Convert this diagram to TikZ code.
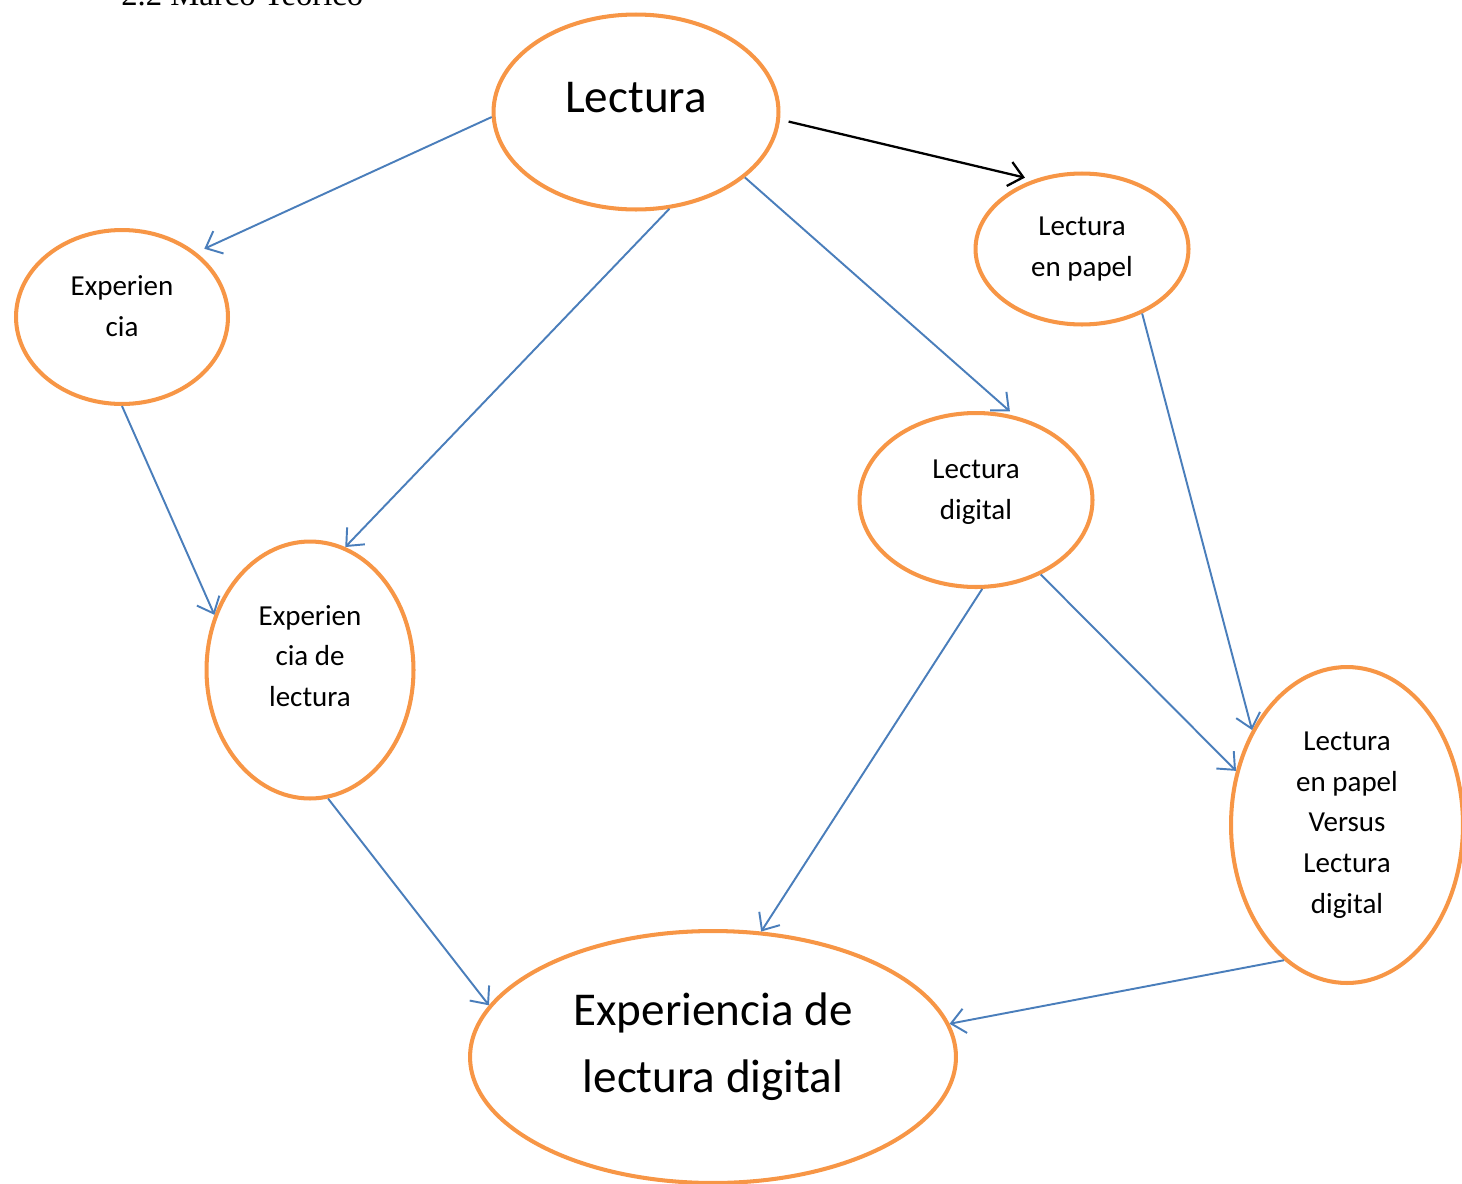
\documentclass[tikz,border=0pt]{standalone}
\usepackage{fontspec}
\setmainfont{Carlito}
\newfontfamily\titlefont{Liberation Serif}
\usetikzlibrary{shapes.geometric,arrows.meta}
\definecolor{bubbleorange}{HTML}{F79646}
\definecolor{linkblue}{HTML}{4A7EBB}
\tikzset{
  bubble/.style={ellipse, draw=bubbleorange, line width=2.3pt, inner sep=0pt, align=center},
  small/.style={font=\fontsize{16.5}{23.2}\selectfont},
  big/.style={font=\fontsize{26.8}{38}\selectfont},
  link/.style={draw=linkblue, line width=1.1pt, -{Straight Barb[length=8pt,width=14pt]}},
  blacklink/.style={draw=black, line width=1.3pt, -{Straight Barb[length=8pt,width=14pt]}}
}
\begin{document}
\begin{tikzpicture}[x=0.02cm, y=-0.02cm]
  \useasboundingbox (0,0) rectangle (1462,1183);
  \node[anchor=base west, inner sep=0pt, font=\titlefont\fontsize{18.6}{22}\selectfont] (titulo) at (121,6) {2.2 Marco Teórico};

  \node[bubble, big, minimum width=5.7cm, minimum height=3.9cm, text depth=0.6cm] (lectura) at (636,112) {Lectura};
  \node[bubble, small, minimum width=4.24cm, minimum height=3.48cm, text depth=0.44cm] (experiencia) at (122,317) {Experien\\cia};
  \node[bubble, small, minimum width=4.26cm, minimum height=3.02cm] (papel) at (1082,249) {Lectura\\en papel};
  \node[bubble, small, minimum width=4.66cm, minimum height=3.48cm, text depth=0.4cm] (digital) at (976,500) {Lectura\\digital};
  \node[bubble, small, minimum width=4.14cm, minimum height=5.14cm, text depth=0.56cm] (explectura) at (310,670) {Experien\\cia de\\lectura};
  \node[bubble, small, minimum width=4.64cm, minimum height=6.32cm] (versus) at (1347,825) {Lectura\\en papel\\Versus\\Lectura\\digital};
  \node[bubble, big, minimum width=9.72cm, minimum height=5.04cm, text depth=0.56cm] (expdigital) at (713,1057) {Experiencia de\\lectura digital};

  \draw[link, shorten >=5pt] (lectura.182) -- (experiencia.41);
  \draw[link] (lectura.289) -- (explectura.74);
  \draw[link, shorten >=4pt] (lectura.329) -- (digital.65);
  \draw[blacklink, shorten <=5pt, shorten >=5pt] (lectura.357) -- (papel.125);
  \draw[link] (experiencia.270) -- (explectura.150);
  \draw[link] (explectura.278) -- (expdigital.167);
  \draw[link] (digital.274) -- (expdigital.69);
  \draw[link] (digital.311) -- (versus.154);
  \draw[link] (papel.313) -- (versus.135);
  \draw[link] (versus.245) -- (expdigital.8);
\end{tikzpicture}
\end{document}
